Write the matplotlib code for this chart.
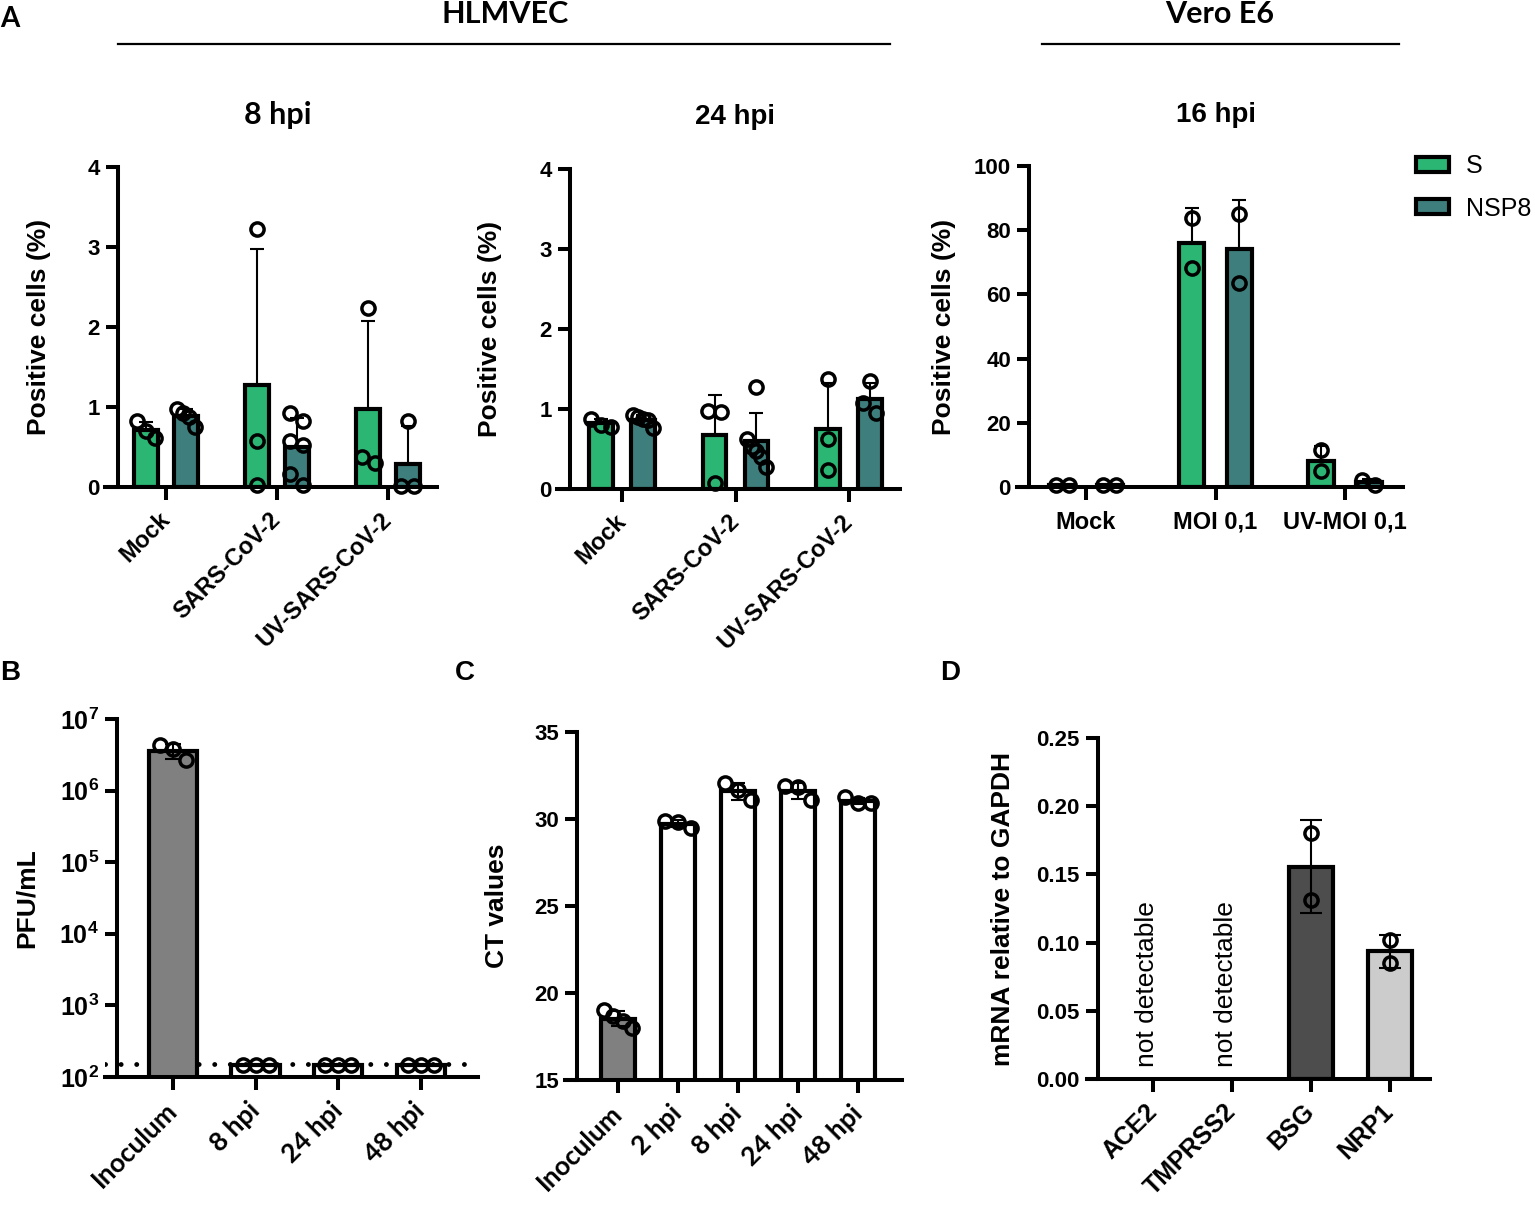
import numpy as np
import matplotlib.pyplot as plt
from matplotlib.lines import Line2D
from matplotlib.patches import Patch

plt.rcParams['font.family'] = 'Liberation Sans'
plt.rcParams['font.weight'] = 'bold'
plt.rcParams['axes.labelweight'] = 'bold'
plt.rcParams['mathtext.fontset'] = 'custom'
plt.rcParams['mathtext.rm'] = 'Liberation Sans:bold'
plt.rcParams['mathtext.bf'] = 'Liberation Sans:bold'

# ---- data ----
groups_a = ['Mock', 'SARS-CoV-2', 'UV-SARS-CoV-2']
groups_vero = ['Mock', 'MOI 0,1', 'UV-MOI 0,1']

# 8 hpi, HLMVEC (% positive cells)
s_8h = [[0.82, 0.70, 0.61], [3.22, 0.57, 0.02], [2.24, 0.38, 0.30]]
nsp8_8h = [[0.97, 0.93, 0.88, 0.75], [0.93, 0.82, 0.57, 0.53, 0.16, 0.02], [0.83, 0.01, 0.01]]

# 24 hpi, HLMVEC
s_24h = [[0.88, 0.80, 0.78], [0.97, 0.96, 0.08], [1.37, 0.63, 0.24]]
nsp8_24h = [[0.93, 0.90, 0.88, 0.86, 0.76], [1.27, 0.62, 0.52, 0.48, 0.40, 0.28], [1.35, 1.07, 0.95]]

# 16 hpi, Vero E6
s_16h = [[0.5, 0.5], [83.7, 68.3], [11.4, 5.0]]
nsp8_16h = [[0.5, 0.5], [84.9, 63.4], [2.3, 0.7]]

# B: PFU/mL
pfu_labels = ['Inoculum', '8 hpi', '24 hpi', '48 hpi']
pfu = [[4.3e6, 3.85e6, 2.65e6], [145, 145, 145], [145, 145, 145], [145, 145, 145]]
pfu_lod = 150

# C: CT values
ct_labels = ['Inoculum', '2 hpi', '8 hpi', '24 hpi', '48 hpi']
ct = [[19.0, 18.7, 18.4, 18.0], [29.9, 29.8, 29.5], [32.05, 31.67, 31.09],
      [31.9, 31.82, 31.09], [31.25, 30.94, 30.9]]

# D: mRNA relative to GAPDH
gene_labels = ['ACE2', 'TMPRSS2', 'BSG', 'NRP1']
mrna = [[], [], [0.180, 0.1315], [0.102, 0.085]]

GREEN = '#2bb673'
TEAL = '#3e7f7d'

W, H = 1535, 1209
DOT_PX = 13  # marker diameter in pixels
fig = plt.figure(figsize=(W / 100, H / 100), dpi=100)


def make_axes(x0, x1, ytop, ybot, c0, step, yaxis_px):
    # axes placed in pixel coordinates, group i centred at c0 + i*step
    ax = fig.add_axes([x0 / W, 1 - ybot / H, (x1 - x0) / W, (ybot - ytop) / H])
    ax.set_xlim((x0 - c0) / step, (x1 - c0) / step)
    ax.px = (step, ybot - ytop)
    for s in ['top', 'right']:
        ax.spines[s].set_visible(False)
    ax.spines['left'].set_position(('data', (yaxis_px - c0) / step))
    for s in ['left', 'bottom']:
        ax.spines[s].set_linewidth(2.9)
    ax.tick_params(width=2.9, length=9, labelsize=16, pad=4)
    ax.patch.set_alpha(0)
    return ax


def ylab(ax, text, px, x0, x1):
    ax.set_ylabel(text, fontsize=19, va='center', fontweight='bold')
    ax.yaxis.set_label_coords((px - x0) / (x1 - x0), 0.5)


def swarm_x(ax, x, pts, w):
    # points that overlap vertically are laid side by side, highest on the left,
    # squeezed so that the row stays inside the bar
    step, hpx = ax.px
    lo, hi = ax.get_ylim()
    vals = np.asarray(pts, dtype=float)
    if ax.get_yscale() == 'log':
        vals, lo, hi = np.log10(vals), np.log10(lo), np.log10(hi)
    ypx = (vals - lo) / (hi - lo) * hpx
    order = np.argsort(-vals, kind='stable')
    clusters, cur = [], [order[0]]
    for k in order[1:]:
        if ypx[cur[-1]] - ypx[k] < DOT_PX:
            cur.append(k)
        else:
            clusters.append(cur)
            cur = [k]
    clusters.append(cur)
    xs = np.full(len(vals), float(x))
    for c in clusters:
        if len(c) == 1:
            continue
        gap = min(DOT_PX, 0.8 * w * step / (len(c) - 1))
        offs = (np.arange(len(c)) - (len(c) - 1) / 2) * gap
        xs[c] = x + offs / step
    return xs


def draw_bar(ax, x, pts, w, color, both=False, capsize=5):
    pts = np.asarray(pts, dtype=float)
    m = pts.mean()
    sd = pts.std(ddof=1) if len(pts) > 1 else 0
    ax.bar(x, m, w, color=color, edgecolor='black', linewidth=3.0, zorder=2)
    yerr = [[sd], [sd]] if both else [[0], [sd]]
    ax.errorbar(x, m, yerr=yerr, fmt='none', ecolor='black', elinewidth=1.5,
                capsize=capsize, capthick=1.5, zorder=3)
    ax.plot(swarm_x(ax, x, pts, w), pts, 'o', mfc='none', mec='black', ms=9.5, mew=2.5,
            zorder=4, clip_on=False)


def rot_labels(ax, labels, size=17, family='Liberation Sans'):
    ax.set_xticks(range(len(labels)))
    ax.set_xticklabels(labels, rotation=45, ha='right', va='center',
                       rotation_mode='anchor', fontsize=size, family=family)
    ax.tick_params(axis='x', pad=12)


# ---- A: 8 hpi ----
ax1 = make_axes(105, 437, 167, 487, 166, 111, 118)
ax1.set_ylim(0, 4)
for i in range(3):
    draw_bar(ax1, i - 0.18, s_8h[i], 0.21, GREEN)
    draw_bar(ax1, i + 0.18, nsp8_8h[i], 0.21, TEAL)
ax1.set_yticks([0, 1, 2, 3, 4])
rot_labels(ax1, groups_a)
ylab(ax1, 'Positive cells (%)', 39, 105, 437)

# ---- A: 24 hpi ----
ax2 = make_axes(557, 900, 169, 489, 622, 113.5, 570)
ax2.set_ylim(0, 4)
for i in range(3):
    draw_bar(ax2, i - 0.185, s_24h[i], 0.21, GREEN)
    draw_bar(ax2, i + 0.185, nsp8_24h[i], 0.21, TEAL)
ax2.set_yticks([0, 1, 2, 3, 4])
rot_labels(ax2, groups_a)
ylab(ax2, 'Positive cells (%)', 490, 557, 900)

# ---- A: 16 hpi Vero E6 ----
ax3 = make_axes(1017, 1403, 166, 487, 1086, 129.5, 1029)
ax3.set_ylim(0, 100)
for i in range(3):
    draw_bar(ax3, i - 0.185, s_16h[i], 0.196, GREEN)
    draw_bar(ax3, i + 0.185, nsp8_16h[i], 0.196, TEAL)
ax3.set_yticks([0, 20, 40, 60, 80, 100])
ax3.set_xticks(range(3))
ax3.set_xticklabels(groups_vero, fontsize=17)
ax3.tick_params(axis='x', pad=8)
ylab(ax3, 'Positive cells (%)', 944, 1017, 1403)

handles = [Patch(facecolor=GREEN, edgecolor='black', linewidth=3.0, label='S'),
           Patch(facecolor=TEAL, edgecolor='black', linewidth=3.0, label='NSP8')]
fig.legend(handles=handles, loc='upper left', bbox_to_anchor=(1416 / W, 1 - 154 / H),
           frameon=False, borderpad=0, borderaxespad=0, handlelength=1.3,
           handleheight=0.55, handletextpad=0.7, labelspacing=0.75,
           prop={'family': 'Liberation Sans', 'weight': 'normal', 'size': 18})

# ---- B: PFU/mL ----
axb = make_axes(105, 478, 719, 1077, 173, 82.6, 117)
axb.set_yscale('log')
axb.set_ylim(1e2, 1e7)
for i, pts in enumerate(pfu):
    draw_bar(axb, i, pts, 0.586, '#808080' if i == 0 else 'white', both=True, capsize=6)
axb.axhline(pfu_lod, color='black', lw=3.5, ls=(0, (0.01, 3.2)), dash_capstyle='round', zorder=1)
decades = [2, 3, 4, 5, 6, 7]
axb.set_yticks([10.0 ** d for d in decades])
axb.set_yticklabels([r'$\mathbf{10^{%d}}$' % d for d in decades], fontsize=18)
axb.minorticks_off()
rot_labels(axb, pfu_labels, size=19, family='Lato')
ylab(axb, 'PFU/mL', 27, 105, 478)

# ---- C: CT values ----
axc = make_axes(565, 902, 732, 1080, 618, 60, 577)
axc.set_ylim(15, 35)
for i, pts in enumerate(ct):
    draw_bar(axc, i, pts, 0.57, '#808080' if i == 0 else 'white', both=True, capsize=5)
axc.set_yticks([15, 20, 25, 30, 35])
rot_labels(axc, ct_labels, size=19, family='Lato')
ylab(axc, 'CT values', 497, 565, 902)

# ---- D: mRNA ----
axd = make_axes(1087, 1430, 738, 1079, 1153, 79, 1098)
axd.set_ylim(0, 0.25)
gene_colors = ['white', 'white', '#4d4d4d', '#cccccc']
for i, pts in enumerate(mrna):
    if len(pts) == 0:
        axd.text(i - 0.08, 0.009, 'not detectable', rotation=90, ha='center', va='bottom',
                 fontsize=19, fontweight='normal')
        continue
    draw_bar(axd, i, pts, 0.56, gene_colors[i], both=True, capsize=8)
axd.set_yticks([0, 0.05, 0.10, 0.15, 0.20, 0.25])
axd.set_yticklabels(['0.00', '0.05', '0.10', '0.15', '0.20', '0.25'])
rot_labels(axd, gene_labels, size=18)
ylab(axd, 'mRNA relative to GAPDH', 1003, 1087, 1430)

# ---- headers and panel letters ----
fig.text(10 / W, 1 - 19 / H, 'A', fontsize=20, ha='center', va='center', family='Lato')
fig.text(10 / W, 1 - 673 / H, 'B', fontsize=20, ha='center', va='center')
fig.text(465 / W, 1 - 673 / H, 'C', fontsize=20, ha='center', va='center')
fig.text(950 / W, 1 - 673 / H, 'D', fontsize=20, ha='center', va='center')

fig.text(505 / W, 1 - 14 / H, 'HLMVEC', fontsize=22, ha='center', va='center', family='Lato')
fig.text(1220 / W, 1 - 14 / H, 'Vero E6', fontsize=22, ha='center', va='center', family='Lato')
fig.add_artist(Line2D([118 / W, 890 / W], [1 - 44 / H] * 2, color='black', lw=1.6))
fig.add_artist(Line2D([1042 / W, 1399 / W], [1 - 44 / H] * 2, color='black', lw=1.6))

fig.text(278 / W, 1 - 115 / H, '8 hpi', fontsize=22, ha='center', va='center', family='Lato')
fig.text(735 / W, 1 - 117 / H, '24 hpi', fontsize=20, ha='center', va='center')
fig.text(1216 / W, 1 - 115 / H, '16 hpi', fontsize=20, ha='center', va='center')

fig.savefig('out.png', dpi=100)
